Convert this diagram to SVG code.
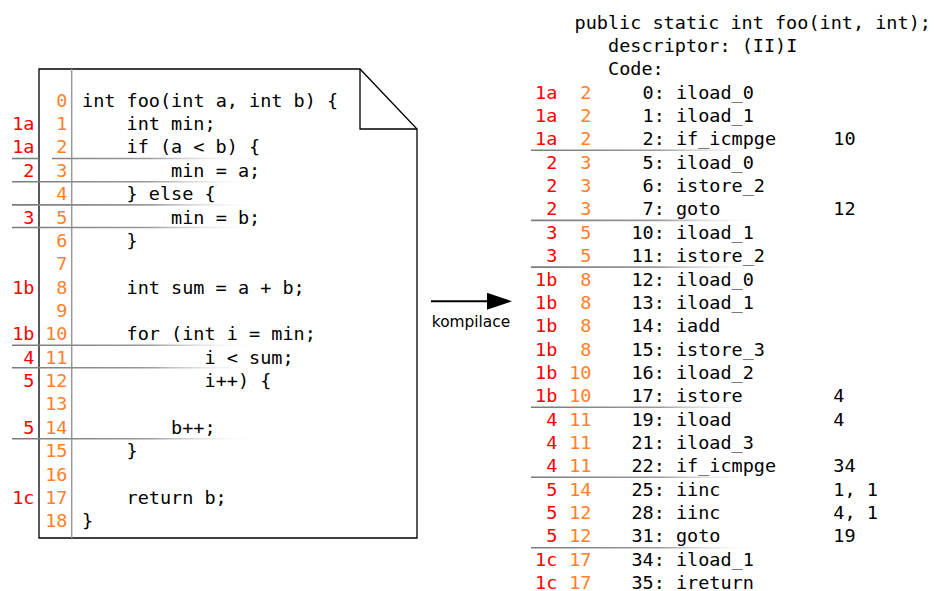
<svg xmlns="http://www.w3.org/2000/svg" width="934" height="591" viewBox="0 0 934 591">
  <defs>
    <linearGradient id="fadeL" gradientUnits="userSpaceOnUse" x1="12" y1="0" x2="262" y2="0">
      <stop offset="0" stop-color="#7a7a7a"/>
      <stop offset="0.55" stop-color="#9a9a9a"/>
      <stop offset="1" stop-color="#ffffff" stop-opacity="0"/>
    </linearGradient>
    <linearGradient id="fadeR" gradientUnits="userSpaceOnUse" x1="531" y1="0" x2="766" y2="0">
      <stop offset="0" stop-color="#7a7a7a"/>
      <stop offset="0.55" stop-color="#9a9a9a"/>
      <stop offset="1" stop-color="#ffffff" stop-opacity="0"/>
    </linearGradient>
    <marker id="arrowhead" markerWidth="25" markerHeight="17" refX="1" refY="8.5" orient="auto" markerUnits="userSpaceOnUse">
      <polygon points="0,0 25,8.5 0,17" fill="#000"/>
    </marker>
  </defs>
  <style>
    text { font-family: "DejaVu Sans Mono", monospace; font-size: 18.5px; }
    .code { fill: #000; }
    .red { fill: #ff0000; text-anchor: end; }
    .org { fill: #ff7f2a; text-anchor: end; }
    .off { fill: #000; text-anchor: end; }
    .sepL { stroke: url(#fadeL); stroke-width: 1.6; fill: none; }
    .sepR { stroke: url(#fadeR); stroke-width: 1.6; fill: none; }
    .lbl { font-family: "DejaVu Sans", sans-serif; font-size: 15.4px; fill: #000; text-anchor: middle; }
  </style>
  <rect width="934" height="591" fill="#fff"/>

  <!-- Source document -->
  <g id="source-doc">
    <path d="M39,69 H360 L417,129 V538 H39 Z" fill="#fff" stroke="#000" stroke-width="1.3"/>
    <path d="M360,69 V129 H417" fill="none" stroke="#000" stroke-width="1.3"/>
    <line x1="71.7" y1="69" x2="71.7" y2="538" stroke="#999" stroke-width="1.5"/>
    <g id="source-separators">
      <line class="sepL" x1="12" y1="158.5" x2="39" y2="158.5"/>
      <line class="sepL" x1="52" y1="158.5" x2="262" y2="158.5"/>
      <line class="sepL" x1="12" y1="181.8" x2="262" y2="181.8"/>
      <line class="sepL" x1="12" y1="204.9" x2="262" y2="204.9"/>
      <line class="sepL" x1="12" y1="227.5" x2="262" y2="227.5"/>
      <line class="sepL" x1="12" y1="345.3" x2="262" y2="345.3"/>
      <line class="sepL" x1="12" y1="367.8" x2="262" y2="367.8"/>
      <line class="sepL" x1="12" y1="438.7" x2="262" y2="438.7"/>
    </g>
    <g id="source-line-numbers">
      <text class="org" x="67.5" y="106.7">0</text>
      <text class="org" x="67.5" y="130.1">1</text>
      <text class="org" x="67.5" y="153.4">2</text>
      <text class="org" x="67.5" y="176.8">3</text>
      <text class="org" x="67.5" y="200.1">4</text>
      <text class="org" x="67.5" y="223.5">5</text>
      <text class="org" x="67.5" y="246.9">6</text>
      <text class="org" x="67.5" y="270.2">7</text>
      <text class="org" x="67.5" y="293.6">8</text>
      <text class="org" x="67.5" y="316.9">9</text>
      <text class="org" x="67.5" y="340.3">10</text>
      <text class="org" x="67.5" y="363.7">11</text>
      <text class="org" x="67.5" y="387.0">12</text>
      <text class="org" x="67.5" y="410.4">13</text>
      <text class="org" x="67.5" y="433.7">14</text>
      <text class="org" x="67.5" y="457.1">15</text>
      <text class="org" x="67.5" y="480.5">16</text>
      <text class="org" x="67.5" y="503.8">17</text>
      <text class="org" x="67.5" y="527.2">18</text>
    </g>
    <g id="source-block-labels">
      <text class="red" x="34.5" y="130.1">1a</text>
      <text class="red" x="34.5" y="153.4">1a</text>
      <text class="red" x="34.5" y="176.8">2</text>
      <text class="red" x="34.5" y="223.5">3</text>
      <text class="red" x="34.5" y="293.6">1b</text>
      <text class="red" x="34.5" y="340.3">1b</text>
      <text class="red" x="34.5" y="363.7">4</text>
      <text class="red" x="34.5" y="387.0">5</text>
      <text class="red" x="34.5" y="433.7">5</text>
      <text class="red" x="34.5" y="503.8">1c</text>
    </g>
    <g id="source-code">
      <text class="code" x="82" y="106.7">int foo(int a, int b) {</text>
      <text class="code" x="126.5" y="130.1">int min;</text>
      <text class="code" x="126.5" y="153.4">if (a &lt; b) {</text>
      <text class="code" x="171.1" y="176.8">min = a;</text>
      <text class="code" x="126.5" y="200.1">} else {</text>
      <text class="code" x="171.1" y="223.5">min = b;</text>
      <text class="code" x="126.5" y="246.9">}</text>
      <text class="code" x="126.5" y="293.6">int sum = a + b;</text>
      <text class="code" x="126.5" y="340.3">for (int i = min;</text>
      <text class="code" x="204.5" y="363.7">i &lt; sum;</text>
      <text class="code" x="204.5" y="387.0">i++) {</text>
      <text class="code" x="171.1" y="433.7">b++;</text>
      <text class="code" x="126.5" y="457.1">}</text>
      <text class="code" x="126.5" y="503.8">return b;</text>
      <text class="code" x="82" y="527.2">}</text>
    </g>
  </g>

  <!-- Connector -->
  <g id="connectors">
    <line x1="431" y1="301.3" x2="488" y2="301.3" stroke="#000" stroke-width="2" marker-end="url(#arrowhead)"/>
    <text class="lbl" x="471" y="327">kompilace</text>
  </g>

  <!-- Bytecode listing -->
  <g id="bytecode">
    <text class="code" x="574.5" y="28.5">public static int foo(int, int);</text>
    <text class="code" x="608" y="51.9">descriptor: (II)I</text>
    <text class="code" x="608" y="75.2">Code:</text>
    <g id="bytecode-separators">
      <line class="sepR" x1="531" y1="150.3" x2="766" y2="150.3"/>
      <line class="sepR" x1="531" y1="220.4" x2="766" y2="220.4"/>
      <line class="sepR" x1="531" y1="267.1" x2="766" y2="267.1"/>
      <line class="sepR" x1="531" y1="407.3" x2="766" y2="407.3"/>
      <line class="sepR" x1="531" y1="477.3" x2="766" y2="477.3"/>
      <line class="sepR" x1="531" y1="547.8" x2="766" y2="547.8"/>
    </g>
    <g id="bytecode-block-labels">
      <text class="red" x="557.3" y="98.6">1a</text>
      <text class="red" x="557.3" y="122.0">1a</text>
      <text class="red" x="557.3" y="145.3">1a</text>
      <text class="red" x="557.3" y="168.7">2</text>
      <text class="red" x="557.3" y="192.0">2</text>
      <text class="red" x="557.3" y="215.4">2</text>
      <text class="red" x="557.3" y="238.8">3</text>
      <text class="red" x="557.3" y="262.1">3</text>
      <text class="red" x="557.3" y="285.5">1b</text>
      <text class="red" x="557.3" y="308.8">1b</text>
      <text class="red" x="557.3" y="332.2">1b</text>
      <text class="red" x="557.3" y="355.6">1b</text>
      <text class="red" x="557.3" y="378.9">1b</text>
      <text class="red" x="557.3" y="402.3">1b</text>
      <text class="red" x="557.3" y="425.6">4</text>
      <text class="red" x="557.3" y="449.0">4</text>
      <text class="red" x="557.3" y="472.4">4</text>
      <text class="red" x="557.3" y="495.7">5</text>
      <text class="red" x="557.3" y="519.1">5</text>
      <text class="red" x="557.3" y="542.4">5</text>
      <text class="red" x="557.3" y="565.8">1c</text>
      <text class="red" x="557.3" y="589.2">1c</text>
    </g>
    <g id="bytecode-line-numbers">
      <text class="org" x="591.5" y="98.6">2</text>
      <text class="org" x="591.5" y="122.0">2</text>
      <text class="org" x="591.5" y="145.3">2</text>
      <text class="org" x="591.5" y="168.7">3</text>
      <text class="org" x="591.5" y="192.0">3</text>
      <text class="org" x="591.5" y="215.4">3</text>
      <text class="org" x="591.5" y="238.8">5</text>
      <text class="org" x="591.5" y="262.1">5</text>
      <text class="org" x="591.5" y="285.5">8</text>
      <text class="org" x="591.5" y="308.8">8</text>
      <text class="org" x="591.5" y="332.2">8</text>
      <text class="org" x="591.5" y="355.6">8</text>
      <text class="org" x="591.5" y="378.9">10</text>
      <text class="org" x="591.5" y="402.3">10</text>
      <text class="org" x="591.5" y="425.6">11</text>
      <text class="org" x="591.5" y="449.0">11</text>
      <text class="org" x="591.5" y="472.4">11</text>
      <text class="org" x="591.5" y="495.7">14</text>
      <text class="org" x="591.5" y="519.1">12</text>
      <text class="org" x="591.5" y="542.4">12</text>
      <text class="org" x="591.5" y="565.8">17</text>
      <text class="org" x="591.5" y="589.2">17</text>
    </g>
    <g id="bytecode-offsets">
      <text class="off" x="664.8" y="98.6">0:</text>
      <text class="off" x="664.8" y="122.0">1:</text>
      <text class="off" x="664.8" y="145.3">2:</text>
      <text class="off" x="664.8" y="168.7">5:</text>
      <text class="off" x="664.8" y="192.0">6:</text>
      <text class="off" x="664.8" y="215.4">7:</text>
      <text class="off" x="664.8" y="238.8">10:</text>
      <text class="off" x="664.8" y="262.1">11:</text>
      <text class="off" x="664.8" y="285.5">12:</text>
      <text class="off" x="664.8" y="308.8">13:</text>
      <text class="off" x="664.8" y="332.2">14:</text>
      <text class="off" x="664.8" y="355.6">15:</text>
      <text class="off" x="664.8" y="378.9">16:</text>
      <text class="off" x="664.8" y="402.3">17:</text>
      <text class="off" x="664.8" y="425.6">19:</text>
      <text class="off" x="664.8" y="449.0">21:</text>
      <text class="off" x="664.8" y="472.4">22:</text>
      <text class="off" x="664.8" y="495.7">25:</text>
      <text class="off" x="664.8" y="519.1">28:</text>
      <text class="off" x="664.8" y="542.4">31:</text>
      <text class="off" x="664.8" y="565.8">34:</text>
      <text class="off" x="664.8" y="589.2">35:</text>
    </g>
    <g id="bytecode-instructions">
      <text class="code" x="675.9" y="98.6">iload_0</text>
      <text class="code" x="675.9" y="122.0">iload_1</text>
      <text class="code" x="675.9" y="145.3">if_icmpge</text>
      <text class="code" x="675.9" y="168.7">iload_0</text>
      <text class="code" x="675.9" y="192.0">istore_2</text>
      <text class="code" x="675.9" y="215.4">goto</text>
      <text class="code" x="675.9" y="238.8">iload_1</text>
      <text class="code" x="675.9" y="262.1">istore_2</text>
      <text class="code" x="675.9" y="285.5">iload_0</text>
      <text class="code" x="675.9" y="308.8">iload_1</text>
      <text class="code" x="675.9" y="332.2">iadd</text>
      <text class="code" x="675.9" y="355.6">istore_3</text>
      <text class="code" x="675.9" y="378.9">iload_2</text>
      <text class="code" x="675.9" y="402.3">istore</text>
      <text class="code" x="675.9" y="425.6">iload</text>
      <text class="code" x="675.9" y="449.0">iload_3</text>
      <text class="code" x="675.9" y="472.4">if_icmpge</text>
      <text class="code" x="675.9" y="495.7">iinc</text>
      <text class="code" x="675.9" y="519.1">iinc</text>
      <text class="code" x="675.9" y="542.4">goto</text>
      <text class="code" x="675.9" y="565.8">iload_1</text>
      <text class="code" x="675.9" y="589.2">ireturn</text>
    </g>
    <g id="bytecode-operands">
      <text class="code" x="833.3" y="145.3">10</text>
      <text class="code" x="833.3" y="215.4">12</text>
      <text class="code" x="833.3" y="402.3">4</text>
      <text class="code" x="833.3" y="425.6">4</text>
      <text class="code" x="833.3" y="472.4">34</text>
      <text class="code" x="833.3" y="495.7">1, 1</text>
      <text class="code" x="833.3" y="519.1">4, 1</text>
      <text class="code" x="833.3" y="542.4">19</text>
    </g>
  </g>
</svg>
